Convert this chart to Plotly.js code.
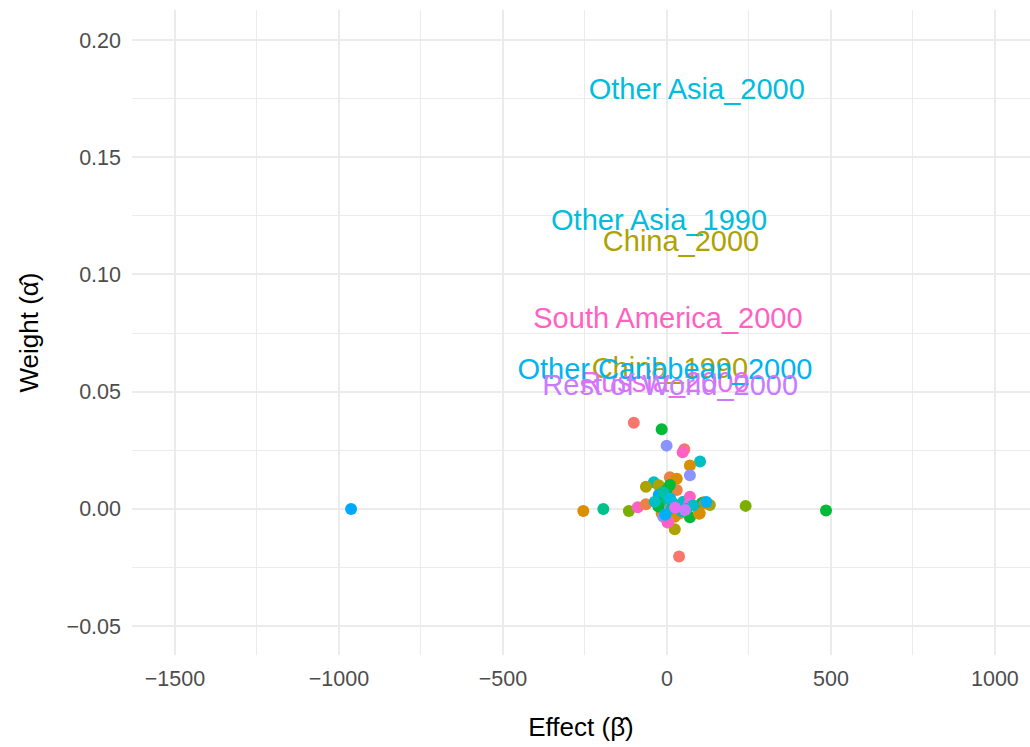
<!DOCTYPE html>
<html>
<head>
<meta charset="utf-8">
<script src="https://cdn.plot.ly/plotly-3.0.1.min.js"></script>
<style>html,body{margin:0;padding:0;background:#fff;}#chart{width:1030px;height:747px;}</style>
</head>
<body>
<div id="chart"></div>
<script>
// Point estimates: effect (beta), weight (alpha), colour group
const pointBeta = [-963, 485, -255, -194, -116, 240, -101, -16, -1, 53, 48, 101, 70, 70, 9, 30, -40, -64, -25, 30, -25, -89, -64, 37, 24, 2, 131, 111, 70, 98,
  -1, -11, -1, -16, 4, -11, 34, 50, 70, 68, 90, 106, 116, 100, 40, 24, 4, 19, 14, -26, -37, 9, -11, 60, 80, 45, 10, -5, 25, 55, 120];
const pointAlpha = [0.0000, -0.0007, -0.0009, 0.0000, -0.0009, 0.0013, 0.0368, 0.0340, 0.0270, 0.0255, 0.0242, 0.0202, 0.0185, 0.0144, 0.0135, 0.0129, 0.0114, 0.0095, 0.0101, 0.0081, 0.0060, 0.0007, 0.0020, -0.0203, -0.0087, -0.0058, 0.0017, 0.0029, -0.0035, -0.0021,
  0.0081, 0.0031, 0.0031, -0.0018, -0.0004, -0.0033, 0.0010, 0.0031, 0.0052, 0.0020, 0.0010, 0.0024, 0.0024, -0.0018, -0.0018, -0.0033, -0.0054, 0.0024, 0.0003, 0.0010, 0.0031, 0.0102, 0.0070, 0.0000, 0.0015, -0.0010, 0.0045, -0.0025, 0.0005, -0.0005, 0.0030];
const pointGroup = ["Other Caribbean", "Europe", "Canada", "Japan", "Eastern Europe", "Eastern Europe", "Africa", "Europe", "Oceania", "Africa", "South America", "Korea", "Central America", "Oceania", "Brazil", "Central America", "Korea", "China", "China", "Brazil", "Other Caribbean", "South America", "Brazil", "Africa", "China", "South America", "China", "Central America", "Europe", "Canada",
  "Europe", "Europe", "Japan", "Canada", "Rest of World", "Oceania", "Japan", "Korea", "South America", "Russia", "Africa", "Europe", "Canada", "Canada", "Africa", "Central America", "South America", "Korea", "Japan", "Europe", "Korea", "Europe", "India", "Japan", "Korea", "India", "Other Asia", "Mexico", "Russia", "Rest of World", "Mexico"];

// Labelled region-years
const labelText = ["Other Asia_2000", "Other Asia_1990", "China_2000", "South America_2000", "China_1990", "Russia_2000", "Other Caribbean_2000", "Rest of World_2000"];
const labelBeta = [91, -24, 43, 3, 9, -6, -6, 10];
const labelAlpha = [0.178, 0.1222, 0.1133, 0.0804, 0.0591, 0.0530, 0.0583, 0.0519];
const labelGroup = ["Other Asia", "Other Asia", "China", "South America", "China", "Russia", "Other Caribbean", "Rest of World"];

const groupColors = {
  "Africa": "#F8766D", "Brazil": "#EE8044", "Canada": "#DB8E00", "Central America": "#D89000",
  "China": "#AEA200", "Eastern Europe": "#7CAE00", "Europe": "#00BA38", "Japan": "#00C08B",
  "India": "#00C1A3", "Korea": "#00BFC4", "Other Asia": "#00BCDE", "Other Caribbean": "#00A9FF",
  "Oceania": "#8B93FF", "Rest of World": "#C77CFF", "Russia": "#E76BF3", "South America": "#FF61C3",
  "Mexico": "#00B0F6"
};
const labelColors = {"Other Caribbean": "#00B4EF"};

const tickVals = [-1500, -1000, -500, 0, 500, 1000];

const traces = [
  {
    type: "scatter", mode: "markers",
    x: pointBeta, y: pointAlpha, text: pointGroup,
    marker: {size: 12, color: pointGroup.map(g => groupColors[g]), line: {width: 0}},
    hoverinfo: "text+x+y", showlegend: false
  },
  {
    type: "scatter", mode: "text",
    x: labelBeta, y: labelAlpha, text: labelText,
    textposition: "middle center",
    textfont: {family: "Liberation Sans, Arial, sans-serif", size: 29,
      color: labelGroup.map(g => labelColors[g] || groupColors[g])},
    hoverinfo: "text", showlegend: false
  }
];

const layout = {
  width: 1030, height: 747,
  margin: {l: 132, r: 0, t: 10, b: 92},
  paper_bgcolor: "#FFFFFF", plot_bgcolor: "#FFFFFF",
  font: {family: "Liberation Sans, Arial, sans-serif", color: "#4D4D4D"},
  xaxis: {
    range: [-1631, 1107], tickvals: tickVals, ticktext: tickVals.map(v => v < 0 ? "\u2212" + Math.abs(v) : String(v)),
    showgrid: true, gridcolor: "#EBEBEB", gridwidth: 2, zeroline: false, showline: false, ticks: "",
    ticklabelstandoff: 8,
    minor: {dtick: 250, tick0: -1750, showgrid: true, gridcolor: "#EBEBEB", gridwidth: 1, ticks: ""},
    tickfont: {size: 21.5, color: "#4D4D4D"},
    title: {text: "Effect (\u03B2\u0302)", font: {size: 26, color: "#000000"}, standoff: 28}
  },
  yaxis: {
    range: [-0.0623, 0.2128], tickvals: [-0.05, 0, 0.05, 0.10, 0.15, 0.20],
    ticktext: ["\u22120.05", "0.00", "0.05", "0.10", "0.15", "0.20"],
    showgrid: true, gridcolor: "#EBEBEB", gridwidth: 2, zeroline: false, showline: false, ticks: "",
    ticklabelstandoff: 10,
    minor: {dtick: 0.025, tick0: -0.075, showgrid: true, gridcolor: "#EBEBEB", gridwidth: 1, ticks: ""},
    tickfont: {size: 21.5, color: "#4D4D4D"},
    title: {text: "Weight (\u03B1\u0302)", font: {size: 26, color: "#000000"}, standoff: 20}
  }
};

Plotly.newPlot("chart", traces, layout, {displayModeBar: false, staticPlot: true});
</script>
</body>
</html>
